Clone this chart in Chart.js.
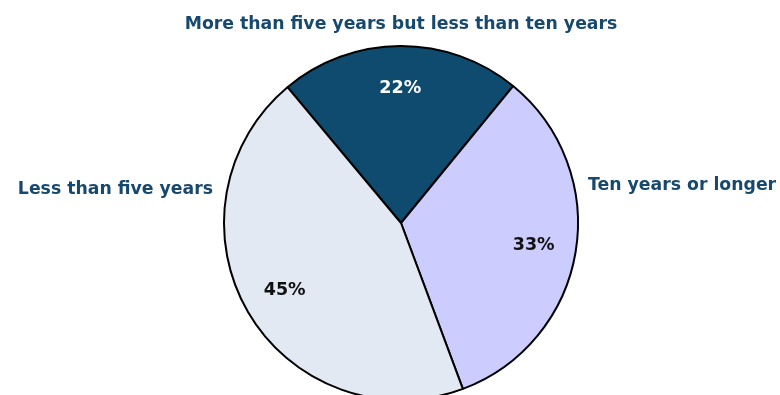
<!DOCTYPE html>
<html>
<head>
<meta charset="utf-8">
<script src="https://cdn.jsdelivr.net/npm/chart.js@4.4.1/dist/chart.umd.min.js"></script>
<style>
  html, body { margin: 0; padding: 0; background: #fff; overflow: hidden; }
  #wrap { width: 780px; height: 395px; }
</style>
</head>
<body>
<div id="wrap"><canvas id="pieChart" width="780" height="395"></canvas></div>
<script>
// Donnees du graphique
const categories = [
    'More than five years but less than ten years',
    'Ten years or longer',
    'Less than five years'
];
const shares = [22, 33.4, 44.6];
const sliceColors = ['#0E4B6F', '#CCCCFF', '#E3E9F3'];
const pctColors = ['#FFFFFF', '#111111', '#111111'];

const labelFont = 'bold 17.3px "DejaVu Sans", sans-serif';
const pctFont = 'bold 17.5px "DejaVu Sans", sans-serif';
const labelColor = '#17496E';

// Etiquettes: pourcentages dans les parts + noms autour du camembert
const pieLabels = {
    id: 'pieLabels',
    afterDatasetsDraw(chart) {
        const ctx = chart.ctx;
        const arcs = chart.getDatasetMeta(0).data;
        const total = shares.reduce((a, b) => a + b, 0);
        ctx.save();
        arcs.forEach((arc, i) => {
            const mid = (arc.startAngle + arc.endAngle) / 2;
            const d = arc.outerRadius * 0.76;
            ctx.font = pctFont;
            ctx.fillStyle = pctColors[i];
            ctx.textAlign = 'center';
            ctx.textBaseline = 'middle';
            ctx.fillText(Math.round(shares[i] / total * 100) + '%',
                arc.x + Math.cos(mid) * d, arc.y + Math.sin(mid) * d);
        });
        const a = arcs[0];
        const cx = a.x, cy = a.y, r = a.outerRadius;
        ctx.font = labelFont;
        ctx.fillStyle = labelColor;
        ctx.textBaseline = 'alphabetic';
        ctx.textAlign = 'center';
        ctx.fillText(categories[0], cx, cy - r - 17);
        ctx.textAlign = 'left';
        ctx.fillText(categories[1], cx + r + 10, cy - 33);
        ctx.textAlign = 'right';
        ctx.fillText(categories[2], cx - r - 11, cy - 29);
        ctx.restore();
    }
};

new Chart(document.getElementById('pieChart'), {
    type: 'pie',
    data: {
        labels: categories,
        datasets: [{
            data: shares,
            backgroundColor: sliceColors,
            borderColor: '#000000',
            borderWidth: 2,
            radius: 177,
            clip: false
        }]
    },
    options: {
        responsive: false,
        animation: false,
        rotation: -39.9,
        layout: { padding: { top: 51, bottom: 0, left: 22, right: 0 } },
        plugins: {
            legend: { display: false },
            tooltip: { enabled: false }
        }
    },
    plugins: [pieLabels]
});
</script>
</body>
</html>
